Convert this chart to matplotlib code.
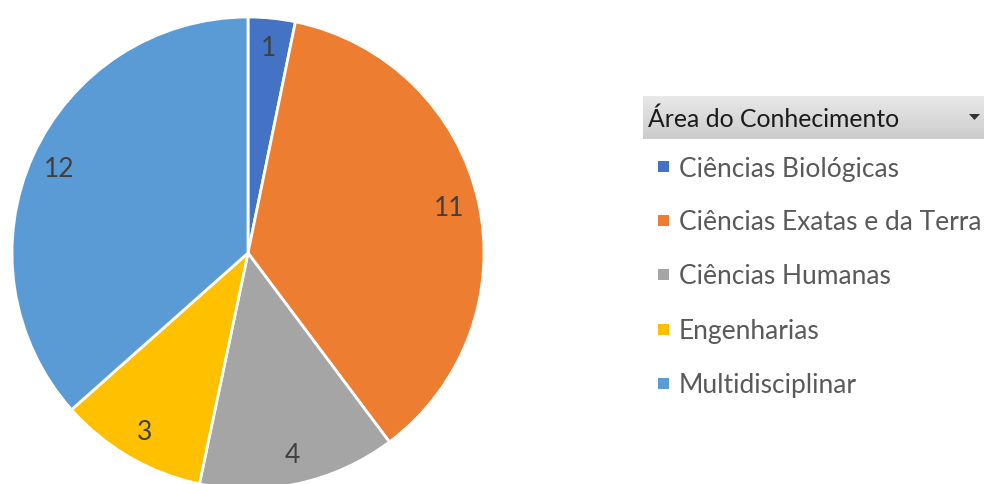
import matplotlib
matplotlib.use("Agg")
import matplotlib.pyplot as plt
import numpy as np
from matplotlib.patches import Rectangle, Polygon

categories = ["Ciências Biológicas", "Ciências Exatas e da Terra", "Ciências Humanas",
              "Engenharias", "Multidisciplinar"]
# printed data labels
label_values = [1, 11, 4, 3, 12]
# slice sizes as they appear in the picture (measured angular shares, in count units)
slice_sizes = [1.0, 11.35, 4.2, 3.15, 11.35]
colors = ["#4472c4", "#ed7d31", "#a5a5a5", "#ffc000", "#5b9bd5"]
legend_title = "Área do Conhecimento"

W, H = 984, 485
fig = plt.figure(figsize=(W / 100, H / 100), dpi=100)
FONT = ["Lato", "DejaVu Sans"]

# pie axes: center (248, 254) px from top, radius 236 px
cx, cy, r = 248, 254, 236
ax = fig.add_axes([(cx - r) / W, (H - cy - r) / H, 2 * r / W, 2 * r / H])
wedges, texts = ax.pie(slice_sizes, colors=colors, startangle=90, counterclock=False, radius=1,
                       labels=[str(v) for v in label_values], labeldistance=0.875,
                       wedgeprops=dict(edgecolor="white", linewidth=2.0),
                       textprops=dict(fontsize=19, color="#404040", family=FONT))
ax.set_xlim(-1, 1)
ax.set_ylim(-1, 1)
ax.set_aspect("equal")
ax.axis("off")
for w in wedges:
    w.set_clip_on(False)
for t in texts:
    t.set_ha("center")
    t.set_va("center")

# legend header bar
hx0, hx1, hy0, hy1 = 643, 984, 97, 140
grad = np.linspace(0, 1, 50).reshape(-1, 1)
hax = fig.add_axes([hx0 / W, (H - hy1) / H, (hx1 - hx0) / W, (hy1 - hy0) / H])
hax.imshow(grad, aspect="auto", cmap=matplotlib.colors.LinearSegmentedColormap.from_list(
    "g", ["#e8e8e8", "#cccccc"]), extent=[0, 1, 0, 1], origin="upper")
hax.axis("off")
fig.text(648 / W, 1 - 119 / H, legend_title, fontsize=17.8, color="#1a1a1a", family=FONT,
         ha="left", va="center")
# dropdown arrow
tri = Polygon([[969 / W, 1 - 115 / H], [980 / W, 1 - 115 / H], [974.5 / W, 1 - 121 / H]],
              closed=True, transform=fig.transFigure, facecolor="#333333", edgecolor="none")
fig.patches.append(tri)

ys = [167, 221, 275, 330, 384]
for lab, col, y in zip(categories, colors, ys):
    fig.patches.append(Rectangle((658 / W, 1 - (y + 5.5) / H), 11 / W, 11 / H,
                                 transform=fig.transFigure, facecolor=col, edgecolor="none"))
    fig.text(679 / W, 1 - (y + 2) / H, lab, fontsize=19, color="#595959", family=FONT,
             ha="left", va="center")

fig.savefig("out.png", dpi=100)
